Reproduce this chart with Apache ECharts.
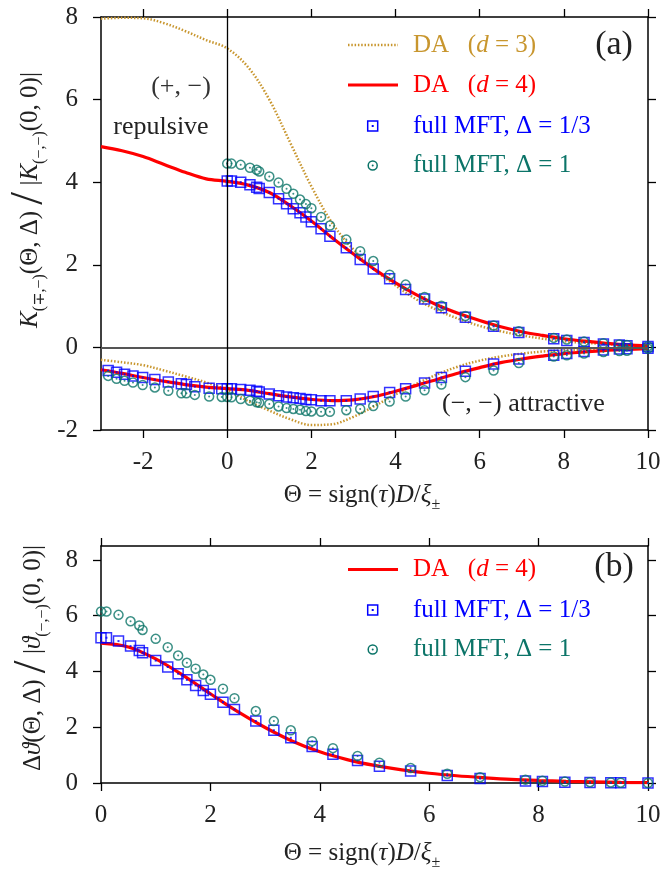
<!DOCTYPE html>
<html><head><meta charset="utf-8">
<script src="https://cdn.jsdelivr.net/npm/echarts@6/dist/echarts.min.js"></script>
<style>html,body{margin:0;padding:0;background:#fff}#c{width:666px;height:874px}</style>
</head><body><div id="c"></div>
<script>
// ---------- data ----------
const thetaLine = [-3, -2.5, -2, -1.5, -1, -0.5, 0, 0.5, 1, 1.5, 2, 2.5, 3, 3.5, 4, 4.5, 5, 5.5, 6, 6.5, 7, 7.5, 8, 8.5, 9, 9.5, 10];
const da3Upper = [7.96, 7.98, 7.97, 7.85, 7.66, 7.44, 7.24, 6.78, 6.0, 4.95, 3.9, 3.0, 2.37, 1.88, 1.5, 1.16, 0.9, 0.69, 0.52, 0.39, 0.29, 0.21, 0.15, 0.11, 0.08, 0.05, 0.03];
const da3Lower = [-0.30, -0.36, -0.43, -0.56, -0.70, -0.85, -1.03, -1.30, -1.53, -1.74, -1.88, -1.86, -1.68, -1.42, -1.14, -0.88, -0.65, -0.46, -0.32, -0.22, -0.15, -0.10, -0.07, -0.05, -0.03, -0.02, -0.01];
const da4Upper = [4.86, 4.76, 4.62, 4.43, 4.24, 4.08, 4.02, 3.93, 3.75, 3.43, 3.06, 2.65, 2.26, 1.89, 1.56, 1.27, 1.02, 0.82, 0.65, 0.50, 0.38, 0.29, 0.21, 0.15, 0.10, 0.06, 0.04];
const da4Lower = [-0.54, -0.63, -0.73, -0.82, -0.90, -0.96, -1.00, -1.04, -1.12, -1.20, -1.26, -1.29, -1.27, -1.19, -1.06, -0.92, -0.77, -0.62, -0.49, -0.37, -0.28, -0.21, -0.15, -0.11, -0.07, -0.05, -0.03];

const thetaNeg = [-2.83, -2.63, -2.44, -2.24, -2.01, -1.72, -1.40, -1.09, -0.97, -0.77, -0.43, -0.13];
const thetaPos = [0, 0.1, 0.32, 0.54, 0.7, 0.76, 1.0, 1.22, 1.41, 1.57, 1.73, 1.87, 2.0, 2.23, 2.44, 2.83, 3.16, 3.47, 3.86, 4.24, 4.69, 5.09, 5.66, 6.33, 6.93, 7.76, 8.07, 8.48, 8.94, 9.32, 9.5, 10];

const sqUpper = [4.03, 4.03, 4.00, 3.94, 3.88, 3.85, 3.75, 3.60, 3.48, 3.36, 3.26, 3.16, 3.04, 2.87, 2.69, 2.41, 2.13, 1.90, 1.66, 1.40, 1.17, 0.96, 0.73, 0.51, 0.36, 0.21, 0.17, 0.12, 0.08, 0.06, 0.04, 0.02];
const ciUpper = [4.45, 4.45, 4.42, 4.35, 4.30, 4.26, 4.14, 3.99, 3.84, 3.72, 3.58, 3.47, 3.37, 3.16, 2.95, 2.61, 2.33, 2.09, 1.76, 1.52, 1.22, 1.01, 0.76, 0.53, 0.39, 0.23, 0.19, 0.14, 0.10, 0.07, 0.06, 0.03];
const sqLowerNeg = [-0.56, -0.60, -0.65, -0.69, -0.73, -0.78, -0.84, -0.88, -0.90, -0.95, -0.99, -1.00];
const sqLowerPos = [-1.00, -1.00, -1.02, -1.04, -1.06, -1.08, -1.13, -1.17, -1.20, -1.22, -1.24, -1.26, -1.27, -1.29, -1.29, -1.29, -1.25, -1.19, -1.09, -1.00, -0.86, -0.73, -0.58, -0.40, -0.28, -0.19, -0.15, -0.10, -0.06, -0.04, -0.03, -0.02];
const ciLowerNeg = [-0.69, -0.76, -0.81, -0.85, -0.91, -0.97, -1.05, -1.11, -1.11, -1.15, -1.19, -1.20];
const ciLowerPos = [-1.20, -1.21, -1.25, -1.29, -1.33, -1.34, -1.37, -1.43, -1.47, -1.49, -1.51, -1.54, -1.55, -1.56, -1.56, -1.52, -1.49, -1.42, -1.31, -1.19, -1.04, -0.90, -0.72, -0.56, -0.38, -0.22, -0.19, -0.15, -0.11, -0.09, -0.08, -0.03];

const thetaLineB = [0, 0.5, 1, 1.5, 2, 2.5, 3, 3.5, 4, 4.5, 5, 5.5, 6, 6.5, 7, 7.5, 8, 8.5, 9, 9.5, 10];
const da4B = [5.02, 4.88, 4.45, 3.86, 3.20, 2.56, 1.99, 1.50, 1.12, 0.84, 0.63, 0.47, 0.35, 0.26, 0.19, 0.13, 0.09, 0.06, 0.04, 0.02, 0.01];
const sqB = [5.21, 5.21, 5.09, 4.91, 4.75, 4.67, 4.39, 4.16, 3.92, 3.70, 3.50, 3.32, 3.18, 2.90, 2.64, 2.22, 1.89, 1.62, 1.31, 1.03, 0.81, 0.60, 0.43, 0.27, 0.16, 0.07, 0.05, 0.03, 0.02, 0.01, 0.01, 0.0];
const ciB = [6.15, 6.15, 6.03, 5.80, 5.65, 5.49, 5.17, 4.87, 4.57, 4.31, 4.10, 3.89, 3.70, 3.38, 3.04, 2.58, 2.22, 1.89, 1.50, 1.25, 0.97, 0.73, 0.54, 0.33, 0.21, 0.12, 0.08, 0.05, 0.03, 0.02, 0.01, 0.0];

const xTicksTop = [-2, 0, 2, 4, 6, 8, 10];
const yTicksTop = [-2, 0, 2, 4, 6, 8];
const xTicksBot = [0, 2, 4, 6, 8, 10];
const yTicksBot = [0, 2, 4, 6, 8];

// ---------- style ----------
const FONT = "'Liberation Serif','DejaVu Serif',serif";
const C_GOLD = '#c8962e', C_RED = '#ff0000', C_BLUE = '#0000ff', C_TEAL = '#0b7468', C_TXT = '#222';
const zip = (xs, ys) => xs.map((x, i) => [x, ys[i]]);

function axis(dir, pos, grid, min, max, ticks, showLabel, margin) {
  return {
    type: 'value', gridIndex: grid, position: pos, min: min, max: max,
    axisLine: { show: true, onZero: false, lineStyle: { color: '#000', width: 1.5 } },
    axisTick: { show: true, inside: false, length: 8, lineStyle: { color: '#000', width: 1.3 }, customValues: ticks },
    axisLabel: { show: showLabel, customValues: ticks, fontFamily: FONT, fontSize: 25, color: C_TXT, margin: margin },
    splitLine: { show: false }
  };
}

const chart = echarts.init(document.getElementById('c'), null, { renderer: 'canvas' });

const sqStyle = { color: 'rgba(0,0,0,0)', borderColor: C_BLUE, borderWidth: 1.5 };
const ciStyle = { color: 'rgba(0,0,0,0)', borderColor: C_TEAL, borderWidth: 1.5 };

const topSq = zip(thetaNeg, sqLowerNeg).concat(zip(thetaPos, sqLowerPos), zip(thetaPos, sqUpper));
const topCi = zip(thetaNeg, ciLowerNeg).concat(zip(thetaPos, ciLowerPos), zip(thetaPos, ciUpper));
const botSq = zip(thetaPos, sqB);
const botCi = zip(thetaPos, ciB);

function lineSeries(xi, yi, data, color, width, type) {
  return { type: 'line', xAxisIndex: xi, yAxisIndex: yi, data: data, smooth: 0.35, showSymbol: false, symbol: 'none',
    lineStyle: { color: color, width: width, type: type || 'solid' }, silent: true, z: 2 };
}
function scat(xi, yi, data, sym, size, style, z) {
  return { type: 'scatter', xAxisIndex: xi, yAxisIndex: yi, data: data, symbol: sym, symbolSize: size, itemStyle: style, silent: true, z: z };
}

const series = [
  Object.assign(lineSeries(0, 0, zip(thetaLine, da3Upper), C_GOLD, 2.5, [1.5, 1.8]), {
    markLine: { silent: true, symbol: 'none', label: { show: false }, animation: false,
      data: [ { yAxis: 0, lineStyle: { color: '#555', width: 2, type: 'solid' } },
              { xAxis: 0, lineStyle: { color: '#000', width: 1.3, type: 'solid' } } ] } }),
  lineSeries(0, 0, zip(thetaLine, da3Lower), C_GOLD, 2.5, [1.5, 1.8]),
  lineSeries(0, 0, zip(thetaLine, da4Upper), C_RED, 3.2),
  lineSeries(0, 0, zip(thetaLine, da4Lower), C_RED, 3.2),
  scat(0, 0, topSq, 'rect', 10, sqStyle, 3),
  scat(0, 0, topSq, 'rect', 2, { color: C_BLUE }, 3),
  scat(0, 0, topCi, 'circle', 9, ciStyle, 4),
  scat(0, 0, topCi, 'circle', 2, { color: C_TEAL }, 4),
  lineSeries(2, 2, zip(thetaLineB, da4B), C_RED, 3.2),
  scat(2, 2, botSq, 'rect', 10, sqStyle, 3),
  scat(2, 2, botSq, 'rect', 2, { color: C_BLUE }, 3),
  scat(2, 2, botCi, 'circle', 9, ciStyle, 4),
  scat(2, 2, botCi, 'circle', 2, { color: C_TEAL }, 4)
];

const richBase = (size) => ({
  n: { fontFamily: FONT, fontSize: size, lineHeight: 36, verticalAlign: 'middle' },
  i: { fontFamily: FONT, fontSize: size, fontStyle: 'italic', lineHeight: 36, verticalAlign: 'middle' },
  s: { fontFamily: FONT, fontSize: Math.round(size * 0.65), lineHeight: 16, verticalAlign: 'bottom' },
  sl: { fontFamily: FONT, fontSize: 46, lineHeight: 36, verticalAlign: 'middle' }
});
function txt(x, y, text, size, color, align, rot) {
  return { type: 'text', x: x, y: y, rotation: rot || 0, silent: true, z: 10,
    style: { text: text, fill: color, font: size + 'px ' + FONT, align: align || 'left', verticalAlign: 'middle', rich: richBase(size) } };
}

const LX = 413, SX1 = 348, SX2 = 398, MX = 372.7;
const graphics = [
  // axis titles
  txt(362, 495, '{n|Θ = sign(}{i|τ}{n|)}{i|D}{n|/}{i|ξ}{s|±}', 25, C_TXT, 'center'),
  txt(362, 853, '{n|Θ = sign(}{i|τ}{n|)}{i|D}{n|/}{i|ξ}{s|±}', 25, C_TXT, 'center'),
  txt(30, 200, '{i|K}{s|(∓,−)}{n|(Θ, Δ) }{sl|/}{n| |}{i|K}{s|(−,−)}{n|(0, 0)|}', 25, C_TXT, 'center', Math.PI / 2),
  txt(33, 658, '{n|Δ}{i|ϑ}{n|(Θ, Δ) }{sl|/}{n| |}{i|ϑ}{s|(−,−)}{n|(0, 0)|}', 25, C_TXT, 'center', Math.PI / 2),
  // panel labels
  txt(614, 45, '(a)', 34, C_TXT, 'center'),
  txt(614, 567, '(b)', 34, C_TXT, 'center'),
  txt(181, 87, '(+, −)', 26, '#333', 'center'),
  txt(161, 127, 'repulsive', 26, C_TXT, 'center'),
  txt(442, 404, '(−, −) attractive', 26, C_TXT, 'left'),
  // legend (a)
  { type: 'line', silent: true, shape: { x1: SX1, y1: 45, x2: SX2, y2: 45 }, style: { stroke: C_GOLD, lineWidth: 2.5, lineDash: [1.5, 1.8] } },
  txt(LX, 45, '{n|DA   (}{i|d}{n| = 3)}', 25, C_GOLD),
  { type: 'line', silent: true, shape: { x1: SX1, y1: 85, x2: SX2, y2: 85 }, style: { stroke: C_RED, lineWidth: 3.2 } },
  txt(LX, 85, '{n|DA   (}{i|d}{n| = 4)}', 25, C_RED),
  { type: 'rect', silent: true, shape: { x: MX - 5, y: 121, width: 10, height: 10 }, style: { fill: 'none', stroke: C_BLUE, lineWidth: 1.5 } },
  { type: 'rect', silent: true, shape: { x: MX - 1, y: 125, width: 2, height: 2 }, style: { fill: C_BLUE } },
  txt(LX, 126, 'full MFT, Δ = 1/3', 25, C_BLUE),
  { type: 'circle', silent: true, shape: { cx: MX, cy: 165.5, r: 4.5 }, style: { fill: 'none', stroke: C_TEAL, lineWidth: 1.5 } },
  { type: 'circle', silent: true, shape: { cx: MX, cy: 165.5, r: 1 }, style: { fill: C_TEAL } },
  txt(LX, 165.5, 'full MFT, Δ = 1', 25, C_TEAL),
  // legend (b)
  { type: 'line', silent: true, shape: { x1: SX1, y1: 569.5, x2: SX2, y2: 569.5 }, style: { stroke: C_RED, lineWidth: 3.2 } },
  txt(LX, 569.5, '{n|DA   (}{i|d}{n| = 4)}', 25, C_RED),
  { type: 'rect', silent: true, shape: { x: MX - 5, y: 605, width: 10, height: 10 }, style: { fill: 'none', stroke: C_BLUE, lineWidth: 1.5 } },
  { type: 'rect', silent: true, shape: { x: MX - 1, y: 609, width: 2, height: 2 }, style: { fill: C_BLUE } },
  txt(LX, 610, 'full MFT, Δ = 1/3', 25, C_BLUE),
  { type: 'circle', silent: true, shape: { cx: MX, cy: 649.5, r: 4.5 }, style: { fill: 'none', stroke: C_TEAL, lineWidth: 1.5 } },
  { type: 'circle', silent: true, shape: { cx: MX, cy: 649.5, r: 1 }, style: { fill: C_TEAL } },
  txt(LX, 649.5, 'full MFT, Δ = 1', 25, C_TEAL)
];

chart.setOption({
  animation: false,
  backgroundColor: '#fff',
  grid: [
    { left: 101, top: 17, width: 547, height: 413 },
    { left: 101, top: 546, width: 547, height: 237 }
  ],
  xAxis: [
    axis('x', 'bottom', 0, -3, 10, xTicksTop, true, 20),
    axis('x', 'top', 0, -3, 10, xTicksTop, false, 8),
    axis('x', 'bottom', 1, 0, 10, xTicksBot, true, 20),
    axis('x', 'top', 1, 0, 10, xTicksBot, false, 8)
  ],
  yAxis: [
    axis('y', 'left', 0, -2, 8, yTicksTop, true, 23),
    axis('y', 'right', 0, -2, 8, yTicksTop, false, 8),
    axis('y', 'left', 1, 0, 8.5, yTicksBot, true, 23),
    axis('y', 'right', 1, 0, 8.5, yTicksBot, false, 8)
  ],
  series: series,
  graphic: graphics
});
</script>
</body></html>
